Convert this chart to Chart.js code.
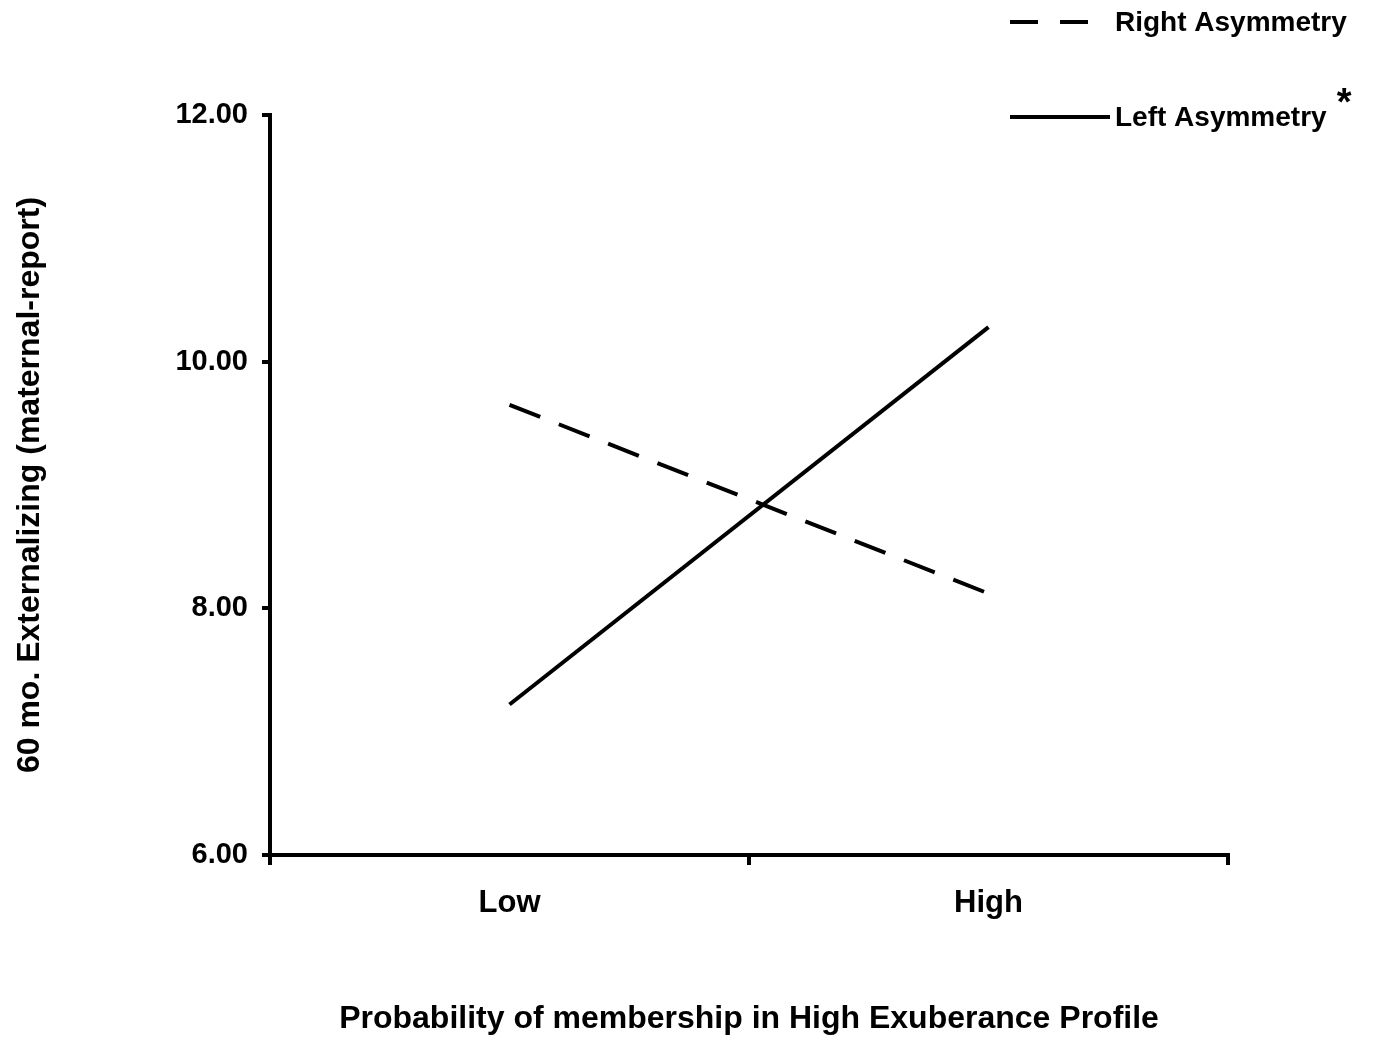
<!DOCTYPE html>
<html>
<head>
<meta charset="utf-8">
<script src="https://cdn.jsdelivr.net/npm/chart.js@4.4.0/dist/chart.umd.min.js"></script>
<style>
  html, body { margin: 0; padding: 0; background: #fff; }
  #wrap { width: 1374px; height: 1040px; }
</style>
</head>
<body>
<div id="wrap"><canvas id="chart" width="1374" height="1040"></canvas></div>
<script>
const categories = ['Low', 'High'];
const rightAsymmetry = [9.65, 8.12];
const leftAsymmetry = [7.22, 10.28];
const seriesNames = ['Right Asymmetry', 'Left Asymmetry'];
const yTicks = [6, 8, 10, 12];

const FONT = "'Liberation Sans', Arial, sans-serif";

// legend drawn in the top right corner, stacked
const cornerLegend = {
    id: 'cornerLegend',
    afterDraw(chart) {
        const ctx = chart.ctx;
        const rows = [22, 117];
        ctx.save();
        chart.data.datasets.forEach((ds, i) => {
            const y = rows[i];
            ctx.beginPath();
            ctx.lineWidth = 4;
            ctx.strokeStyle = '#000';
            ctx.setLineDash(ds.borderDash ? [28, 22] : []);
            ctx.moveTo(1010, y);
            ctx.lineTo(1110, y);
            ctx.stroke();
            ctx.setLineDash([]);
            ctx.fillStyle = '#000';
            ctx.font = 'bold 28px ' + FONT;
            ctx.textBaseline = 'middle';
            ctx.textAlign = 'left';
            ctx.fillText(ds.label, 1115, y + 1);
            if (i === 1) {
                const w = ctx.measureText(ds.label).width;
                ctx.font = 'bold 38px ' + FONT;
                ctx.fillText('*', 1115 + w + 10, y - 12);
            }
        });
        ctx.restore();
    }
};

new Chart(document.getElementById('chart'), {
    type: 'line',
    data: {
        labels: categories,
        datasets: [
            {
                label: seriesNames[0],
                data: rightAsymmetry,
                borderColor: '#000',
                borderWidth: 4,
                borderDash: [33, 20],
                pointRadius: 0,
                tension: 0
            },
            {
                label: seriesNames[1],
                data: leftAsymmetry,
                borderColor: '#000',
                borderWidth: 4,
                pointRadius: 0,
                tension: 0
            }
        ]
    },
    options: {
        responsive: false,
        animation: false,
        layout: { padding: { top: 115, right: 146, left: 0, bottom: 0 } },
        plugins: {
            legend: { display: false },
            tooltip: { enabled: false }
        },
        scales: {
            x: {
                offset: true,
                grid: {
                    offset: true,
                    drawOnChartArea: false,
                    drawTicks: true,
                    tickLength: 10,
                    color: '#000',
                    lineWidth: 4
                },
                border: { display: true, color: '#000', width: 4 },
                ticks: { color: '#000', padding: 20, font: { family: FONT, size: 31, weight: 'bold' } },
                title: {
                    display: true,
                    text: 'Probability of membership in High Exuberance Profile',
                    color: '#000',
                    font: { family: FONT, size: 32, weight: 'bold' },
                    padding: { top: 0, bottom: 2 }
                },
                afterFit(scale) { scale.height = 185; }
            },
            y: {
                min: 6,
                max: 12,
                afterBuildTicks(scale) { scale.ticks = yTicks.map(v => ({ value: v })); },
                grid: {
                    drawOnChartArea: false,
                    drawTicks: true,
                    tickLength: 8,
                    color: '#000',
                    lineWidth: 4
                },
                border: { display: true, color: '#000', width: 4 },
                ticks: {
                    color: '#000',
                    padding: 14,
                    font: { family: FONT, size: 29, weight: 'bold' },
                    callback: v => Number(v).toFixed(2)
                },
                title: {
                    display: true,
                    text: '60 mo. Externalizing (maternal-report)',
                    color: '#000',
                    font: { family: FONT, size: 32, weight: 'bold' },
                    padding: { top: 11, bottom: 0 }
                },
                afterFit(scale) { scale.width = 270; }
            }
        }
    },
    plugins: [cornerLegend]
});
</script>
</body>
</html>
